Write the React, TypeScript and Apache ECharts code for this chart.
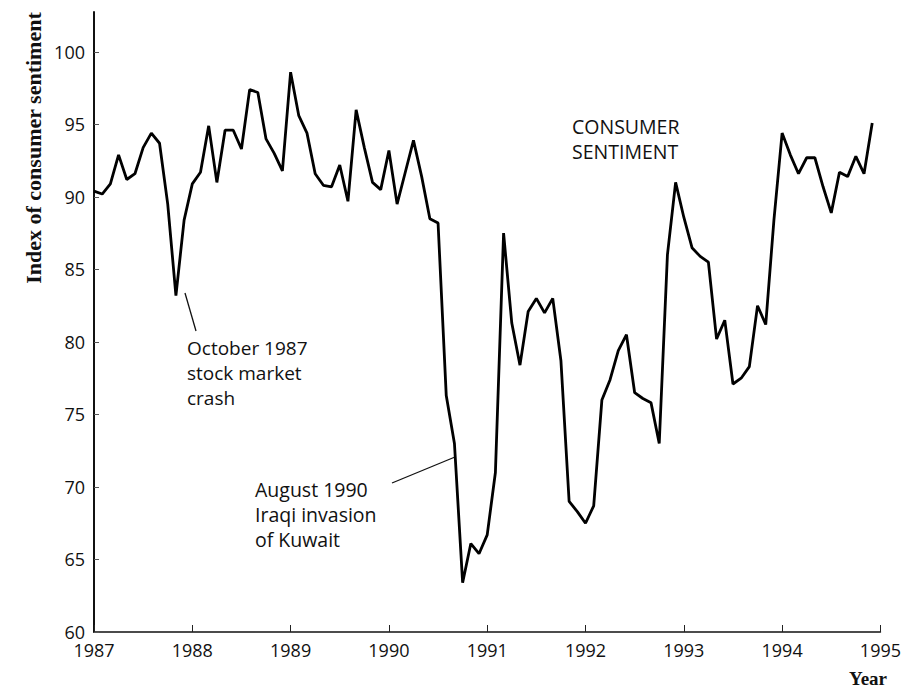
import React, { useEffect, useRef } from "react";
import * as echarts from "echarts";

const years = [1987, 1988, 1989, 1990, 1991, 1992, 1993, 1994];
const s1987 = [90.4, 90.2, 90.9, 92.9, 91.2, 91.6, 93.4, 94.4, 93.7, 89.5, 83.2, 88.4];
const s1988 = [90.9, 91.7, 94.9, 91.0, 94.6, 94.6, 93.3, 97.4, 97.2, 94.0, 93.0, 91.8];
const s1989 = [98.6, 95.6, 94.4, 91.6, 90.8, 90.7, 92.2, 89.7, 96.0, 93.4, 91.0, 90.5];
const s1990 = [93.2, 89.5, 91.7, 93.9, 91.4, 88.5, 88.2, 76.3, 73.0, 63.4, 66.1, 65.4];
const s1991 = [66.7, 71.0, 87.5, 81.3, 78.4, 82.1, 83.0, 82.0, 83.0, 78.7, 69.0, 68.3];
const s1992 = [67.5, 68.7, 76.0, 77.4, 79.4, 80.5, 76.5, 76.1, 75.8, 73.0, 86.0, 91.0];
const s1993 = [88.6, 86.5, 85.9, 85.5, 80.2, 81.5, 77.1, 77.5, 78.3, 82.5, 81.2, 88.4];
const s1994 = [94.4, 92.9, 91.6, 92.7, 92.7, 90.7, 88.9, 91.7, 91.4, 92.8, 91.6, 95.1];
const monthly = [s1987, s1988, s1989, s1990, s1991, s1992, s1993, s1994];

const xTicks = [1987, 1988, 1989, 1990, 1991, 1992, 1993, 1994, 1995];
const yTicks = [60, 65, 70, 75, 80, 85, 90, 95, 100];

const seriesLabel = "CONSUMER\nSENTIMENT";
const crashNote = "October 1987\nstock market\ncrash";
const kuwaitNote = "August 1990\nIraqi invasion\nof Kuwait";
const yTitle = "Index of consumer sentiment";
const xTitle = "Year";

const SANS = '"Open Sans", "Noto Sans", sans-serif';
const SERIF = '"Liberation Serif", "DejaVu Serif", serif';

export default function App() {
  const ref = useRef<HTMLDivElement>(null);
  useEffect(() => {
    if (!ref.current) return;
    const chart = echarts.init(ref.current, null, { renderer: "svg" });
    const data: [number, number][] = [];
    years.forEach((y, i) => {
      monthly[i].forEach((v, m) => data.push([y + m / 12, v]));
    });
    chart.setOption({
      animation: false,
      backgroundColor: "#fff",
      grid: { left: 94, right: 15, top: 12, bottom: 57, containLabel: false },
      xAxis: {
        type: "value",
        min: 1987,
        max: 1995,
        interval: 1,
        axisLine: { lineStyle: { color: "#111", width: 1.5 } },
        axisTick: { inside: true, length: 7, lineStyle: { color: "#222", width: 1 }, customValues: xTicks },
        axisLabel: {
          customValues: xTicks,
          formatter: (v: number) => String(v),
          fontFamily: SANS,
          fontSize: 18,
          lineHeight: 14,
          color: "#111",
          margin: 11,
        },
        splitLine: { show: false },
      },
      yAxis: {
        type: "value",
        min: 60,
        max: 102.75,
        interval: 5,
        axisLine: { show: true, lineStyle: { color: "#111", width: 2 } },
        axisTick: { show: true, inside: true, length: 5, lineStyle: { color: "#555", width: 1 }, customValues: yTicks },
        axisLabel: {
          customValues: yTicks,
          fontFamily: SANS,
          fontSize: 18,
          lineHeight: 14,
          color: "#111",
          margin: 9,
        },
        splitLine: { show: false },
      },
      series: [
        {
          type: "line",
          data,
          showSymbol: false,
          smooth: false,
          lineStyle: { color: "#000", width: 2.8 },
        },
      ],
      graphic: [
        {
          type: "text",
          x: 33,
          y: 148,
          rotation: Math.PI / 2,
          style: {
            text: yTitle,
            font: `bold 22px ${SERIF}`,
            fill: "#111",
            textAlign: "center",
            textVerticalAlign: "middle",
          },
        },
        {
          type: "text",
          x: 868,
          y: 678,
          style: {
            text: xTitle,
            font: `bold 19px ${SERIF}`,
            fill: "#111",
            textAlign: "center",
            textVerticalAlign: "middle",
          },
        },
        {
          type: "text",
          x: 572,
          y: 114,
          style: { text: seriesLabel, font: `19.5px ${SANS}`, lineHeight: 25, fill: "#111", textVerticalAlign: "top" },
        },
        {
          type: "text",
          x: 187,
          y: 335,
          style: { text: crashNote, font: `19px ${SANS}`, lineHeight: 25, fill: "#111", textVerticalAlign: "top" },
        },
        {
          type: "text",
          x: 255,
          y: 477,
          style: { text: kuwaitNote, font: `19.5px ${SANS}`, lineHeight: 25, fill: "#111", textVerticalAlign: "top" },
        },
        {
          type: "line",
          shape: { x1: 185, y1: 293, x2: 196, y2: 331 },
          style: { stroke: "#111", lineWidth: 1.3 },
        },
        {
          type: "line",
          shape: { x1: 392, y1: 483, x2: 455, y2: 457 },
          style: { stroke: "#111", lineWidth: 1.3 },
        },
      ],
    });
    return () => chart.dispose();
  }, []);
  return (
    <div
      ref={ref}
      style={{ position: "fixed", left: 0, top: 0, width: 904, height: 689, background: "#fff" }}
    />
  );
}
